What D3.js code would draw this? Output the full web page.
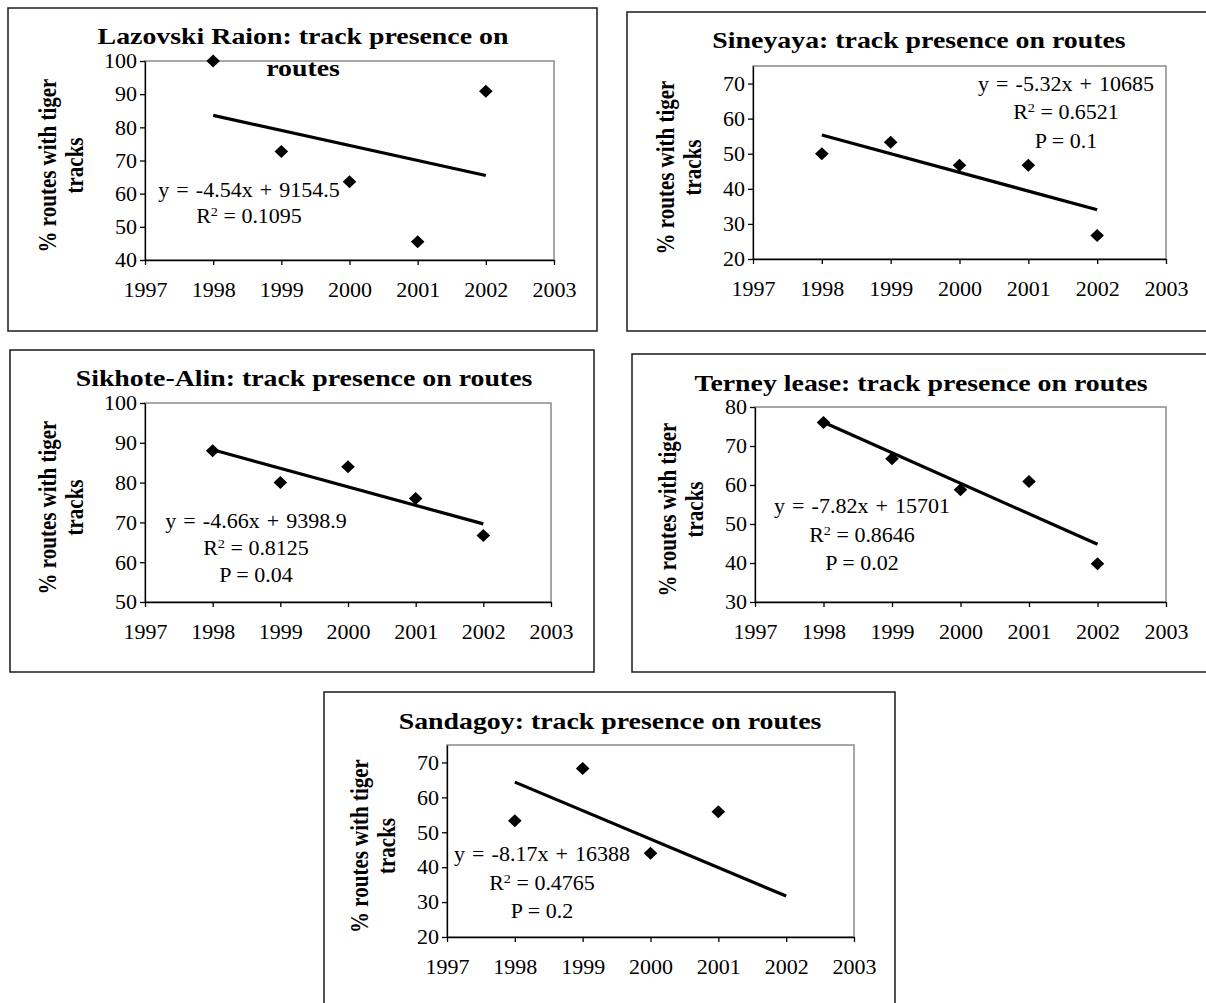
<!DOCTYPE html>
<html>
<head>
<meta charset="utf-8">
<script src="https://cdn.jsdelivr.net/npm/d3@7"></script>
<style>
  body { margin: 0; background: #fff; }
  svg { display: block; }
  svg text { font-family: "Liberation Serif", "Times New Roman", Times, serif; fill: #000; }
</style>
</head>
<body>
<svg id="chart"></svg>
<script>
'use strict';

const WIDTH = 1206;
const HEIGHT = 1003;
const SERIF = '"Liberation Serif", "Times New Roman", Times, serif';
// the source picture is a bit wider than tall, text included
const STRETCH = 1.1;
const TITLE_STRETCH = 1.16;

const YEARS = [1998, 1999, 2000, 2001, 2002];
const X_TICKS = [1997, 1998, 1999, 2000, 2001, 2002, 2003];

// % of routes with tiger tracks, per area
const LAZOVSKI = [100, 72.7, 63.6, 45.5, 90.9];
const SINEYAYA = [50, 53.3, 46.7, 46.7, 26.7];
const SIKHOTE_ALIN = [88, 80, 84, 76, 66.7];
const TERNEY = [76, 66.7, 58.8, 60.9, 39.8];
const SANDAGOY = [53.3, 68.3, 44, 55.9, 18.7]; // 2002 falls under the axis minimum, not shown

const TICKS_LAZOVSKI = [40, 50, 60, 70, 80, 90, 100];
const TICKS_SINEYAYA = [20, 30, 40, 50, 60, 70];
const TICKS_SIKHOTE_ALIN = [50, 60, 70, 80, 90, 100];
const TICKS_TERNEY = [30, 40, 50, 60, 70, 80];
const TICKS_SANDAGOY = [20, 30, 40, 50, 60, 70];

const TITLE_LAZOVSKI = ['Lazovski Raion: track presence on', 'routes'];
const TITLE_SINEYAYA = ['Sineyaya: track presence on routes'];
const TITLE_SIKHOTE_ALIN = ['Sikhote-Alin: track presence on routes'];
const TITLE_TERNEY = ['Terney lease: track presence on routes'];
const TITLE_SANDAGOY = ['Sandagoy: track presence on routes'];

// equation, R squared, P
const STATS_LAZOVSKI = ['y = -4.54x + 9154.5', '0.1095', null];
const STATS_SINEYAYA = ['y = -5.32x + 10685', '0.6521', '0.1'];
const STATS_SIKHOTE_ALIN = ['y = -4.66x + 9398.9', '0.8125', '0.04'];
const STATS_TERNEY = ['y = -7.82x + 15701', '0.8646', '0.02'];
const STATS_SANDAGOY = ['y = -8.17x + 16388', '0.4765', '0.2'];

const Y_LABEL = ['% routes with tiger', 'tracks'];

const PANELS = [
  { title: TITLE_LAZOVSKI, values: LAZOVSKI, yDomain: [40, 100], yTicks: TICKS_LAZOVSKI, stats: STATS_LAZOVSKI,
    frame: [8, 8, 597, 331], plot: [145, 61, 554, 260], titleAt: [303, 44], titleGap: 32, statsAt: [249, 197], statsGap: 26 },
  { title: TITLE_SINEYAYA, values: SINEYAYA, yDomain: [20, 75], yTicks: TICKS_SINEYAYA, stats: STATS_SINEYAYA,
    frame: [627, 12, 1215, 331], plot: [753, 66, 1166, 259], titleAt: [919, 48], titleGap: 0, statsAt: [1066, 91], statsGap: 28.3 },
  { title: TITLE_SIKHOTE_ALIN, values: SIKHOTE_ALIN, yDomain: [50, 100], yTicks: TICKS_SIKHOTE_ALIN, stats: STATS_SIKHOTE_ALIN,
    frame: [10, 350, 594, 672], plot: [145, 403, 551, 602], titleAt: [304, 386], titleGap: 0, statsAt: [256, 528], statsGap: 27 },
  { title: TITLE_TERNEY, values: TERNEY, yDomain: [30, 80], yTicks: TICKS_TERNEY, stats: STATS_TERNEY,
    frame: [632, 354, 1215, 672], plot: [755, 407, 1166, 602], titleAt: [921, 391], titleGap: 0, statsAt: [862, 513], statsGap: 28.6 },
  { title: TITLE_SANDAGOY, values: SANDAGOY, yDomain: [20, 75], yTicks: TICKS_SANDAGOY, stats: STATS_SANDAGOY,
    frame: [324, 692, 895, 1015], plot: [447, 745, 854, 937], titleAt: [610, 729], titleGap: 0, statsAt: [542, 861], statsGap: 28.6 },
];

function fitLine(xs, ys) {
  const mx = d3.mean(xs);
  const my = d3.mean(ys);
  const slope = d3.sum(xs, (v, i) => (v - mx) * (ys[i] - my)) / d3.sum(xs, v => (v - mx) ** 2);
  return v => my + slope * (v - mx);
}

const svg = d3.select('#chart')
  .attr('width', WIDTH)
  .attr('height', HEIGHT)
  .attr('viewBox', `0 0 ${WIDTH} ${HEIGHT}`)
  .attr('font-family', SERIF);

function drawPanel(p) {
  const [L, T, R, B] = p.plot;
  const g = svg.append('g');

  g.append('rect')
    .attr('x', p.frame[0]).attr('y', p.frame[1])
    .attr('width', p.frame[2] - p.frame[0]).attr('height', p.frame[3] - p.frame[1])
    .attr('fill', '#fff').attr('stroke', '#1a1a1a').attr('stroke-width', 1.5);

  const x = d3.scaleLinear().domain([X_TICKS[0], X_TICKS[X_TICKS.length - 1]]).range([L, R]);
  const y = d3.scaleLinear().domain(p.yDomain).range([B, T]);

  // plot area border, grey on top and right
  g.append('rect')
    .attr('x', L).attr('y', T).attr('width', R - L).attr('height', B - T)
    .attr('fill', 'none').attr('stroke', '#8a8a8a').attr('stroke-width', 1.5);

  const xAxis = g.append('g')
    .attr('transform', `translate(0,${B})`)
    .call(d3.axisBottom(x).tickValues(X_TICKS).tickFormat(d3.format('d')).tickSize(5).tickSizeOuter(0));
  xAxis.selectAll('text')
    .attr('y', null).attr('dy', null)
    .attr('font-size', 20)
    .attr('text-anchor', 'middle')
    .attr('transform', `translate(0,37) scale(${STRETCH},1)`);

  const yAxis = g.append('g')
    .attr('transform', `translate(${L},0)`)
    .call(d3.axisLeft(y).tickValues(p.yTicks).tickFormat(d3.format('d')).tickSize(5).tickSizeOuter(0));
  yAxis.selectAll('text')
    .attr('x', null).attr('dy', null)
    .attr('font-size', 20)
    .attr('text-anchor', 'end')
    .attr('transform', `translate(-8,6.8) scale(${STRETCH},1)`);

  [xAxis, yAxis].forEach(ax => {
    ax.attr('font-family', SERIF).attr('font-size', null);
    ax.select('.domain').attr('stroke', '#000').attr('stroke-width', 1.3);
    ax.selectAll('.tick line').attr('stroke', '#000').attr('stroke-width', 1.3);
  });

  // linear trend
  const trend = fitLine(YEARS, p.values);
  const first = YEARS[0];
  const last = YEARS[YEARS.length - 1];
  g.append('line')
    .attr('x1', x(first)).attr('y1', y(trend(first)))
    .attr('x2', x(last)).attr('y2', y(trend(last)))
    .attr('stroke', '#000').attr('stroke-width', 3.2);

  // points below or above the axis range are not shown
  const pts = YEARS.map((yr, i) => ({ yr, v: p.values[i] }))
    .filter(d => d.v >= p.yDomain[0] && d.v <= p.yDomain[1]);
  g.selectAll('path.pt')
    .data(pts)
    .join('path')
    .attr('class', 'pt')
    .attr('d', 'M0,-6.5L6.8,0L0,6.5L-6.8,0Z')
    .attr('transform', d => `translate(${x(d.yr)},${y(d.v)})`)
    .attr('fill', '#000');

  // regression text
  const [sx, sy] = p.statsAt;
  const statText = (row) => g.append('text')
    .attr('font-size', 20)
    .attr('text-anchor', 'middle')
    .attr('transform', `translate(${sx},${sy + row * p.statsGap}) scale(${STRETCH},1)`);

  statText(0).attr('word-spacing', 1.5).text(p.stats[0]);
  const r2 = statText(1);
  r2.append('tspan').text('R');
  r2.append('tspan').attr('font-size', 13).attr('dy', -7).text('2');
  r2.append('tspan').attr('dy', 7).text(` = ${p.stats[1]}`);
  if (p.stats[2]) statText(2).text(`P = ${p.stats[2]}`);

  // title
  p.title.forEach((line, i) => {
    g.append('text')
      .attr('font-size', 24).attr('font-weight', 'bold')
      .attr('text-anchor', 'middle')
      .attr('transform', `translate(${p.titleAt[0]},${p.titleAt[1] + i * p.titleGap}) scale(${TITLE_STRETCH},1)`)
      .text(line);
  });

  // y axis title on two lines
  const wide = d3.max(p.yTicks) >= 100;
  const base2 = L - (wide ? 62 : 52);
  const mid = (T + B) / 2 + 5;
  Y_LABEL.forEach((line, i) => {
    const bx = i === 0 ? base2 - 27 : base2;
    g.append('text')
      .attr('font-size', 21).attr('font-weight', 'bold')
      .attr('text-anchor', 'middle')
      .attr('transform', `translate(${bx},${mid}) rotate(-90) scale(1,${STRETCH + 0.05})`)
      .text(line);
  });
}

PANELS.forEach(drawPanel);
</script>
</body>
</html>
